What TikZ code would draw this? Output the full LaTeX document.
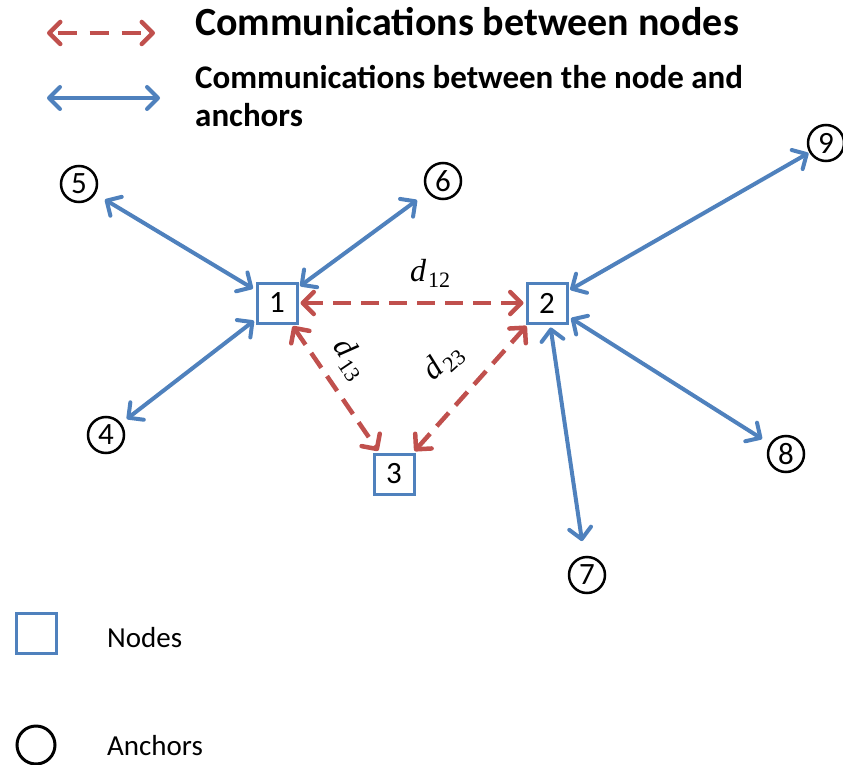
\documentclass[tikz,border=0pt]{standalone}
\usepackage{fontspec}
\setmainfont{Carlito}
\newfontfamily\dfont{Liberation Serif}
\usetikzlibrary{arrows.meta}
\definecolor{linkblue}{RGB}{79,129,189}
\definecolor{linkred}{RGB}{192,80,77}
\newcommand{\dsub}[1]{{\dfont\itshape d}\kern2pt{\fontsize{22}{24}\selectfont\dfont\raisebox{-6pt}{#1}}}
\tikzset{
  barb/.tip={Straight Barb[length=11pt,width=22pt,line cap=round,line join=round]},
  anchorc/.style={circle, draw=black, line width=2.5pt, minimum size=36pt, inner sep=0pt, font=\fontsize{31}{34}\selectfont},
  nodebox/.style={rectangle, draw=linkblue, line width=3pt, fill=white, minimum size=40pt, inner sep=0pt, font=\fontsize{31}{34}\selectfont},
  bluelink/.style={draw=linkblue, line width=4pt, barb-barb},
  redlink/.style={draw=linkred, line width=4.5pt, dash pattern=on 18pt off 10pt, barb-barb},
  dlabel/.style={font=\fontsize{32}{34}\selectfont, inner sep=1pt},
  legtext/.style={anchor=base west, inner sep=0pt},
}
\begin{document}
\begin{tikzpicture}[x=1pt,y=-1pt]
\useasboundingbox (0,0) rectangle (843,765);
% legend
\coordinate (lr1) at (47,33);
\coordinate (lr2) at (155,33);
\coordinate (lb1) at (47,98);
\coordinate (lb2) at (160,98);
\draw[redlink, dash pattern=on 19pt off 13pt, dash phase=-6pt] (lr1) -- (lr2);
\draw[bluelink] (lb1) -- (lb2);
\node[legtext, font=\fontsize{40}{44}\bfseries\selectfont] (t1) at (195,36) {Communications between nodes};
\node[legtext, font=\fontsize{33}{38}\bfseries\selectfont, align=left] (t2) at (195,127) {Communications between the node and\\anchors};
% nodes
\node[nodebox] (n1) at (277,303) {1};
\node[nodebox] (n2) at (547,303) {2};
\node[nodebox] (n3) at (394,474) {3};
% anchors
\node[anchorc] (a4) at (106,435) {4};
\node[anchorc] (a5) at (79,184) {5};
\node[anchorc] (a6) at (443,181) {6};
\node[anchorc] (a7) at (587,575) {7};
\node[anchorc] (a8) at (786,454) {8};
\node[anchorc] (a9) at (826,143) {9};
% blue links
\draw[bluelink, shorten <=11pt, shorten >=3pt] (a5) -- (n1);
\draw[bluelink, shorten <=13pt, shorten >=2pt] (a6) -- (n1);
\draw[bluelink, shorten <=7pt, shorten >=2pt] (a4) -- (n1);
\draw[bluelink, shorten <=1pt, shorten >=2pt] (a9) -- (n2);
\draw[bluelink, shorten <=9pt, shorten >=3pt] (a8) -- (n2);
\draw[bluelink, shorten <=15pt, shorten >=3pt] (a7) -- (n2);
% red links
\draw[redlink, shorten <=2pt, shorten >=2pt] (n1) -- (n2);
\draw[redlink, shorten <=2pt, shorten >=2pt] (n1) -- (n3);
\draw[redlink, shorten <=2pt, shorten >=2pt] (n2) -- (n3);
\node[dlabel] (d12) at (430,273) {\dsub{12}};
\node[dlabel, rotate=-56] (d13) at (350,359) {\dsub{13}};
\node[dlabel, rotate=42] (d23) at (443,362) {\dsub{23}};
% bottom legend
\node[nodebox, minimum size=40pt, line width=3pt] (lnode) at (36,633) {};
\node[legtext, font=\fontsize{29}{32}\selectfont] (lnodet) at (107,647) {Nodes};
\node[circle, draw=black, line width=3pt, minimum size=38pt, inner sep=0pt] (lanc) at (36,745) {};
\node[legtext, font=\fontsize{29}{32}\selectfont] (lanct) at (107,755) {Anchors};
\end{tikzpicture}
\end{document}
